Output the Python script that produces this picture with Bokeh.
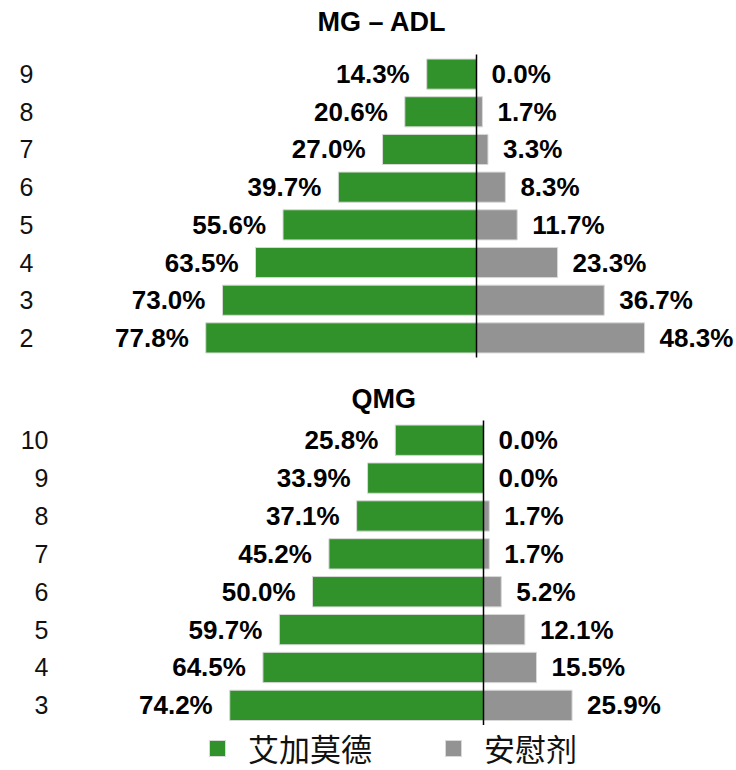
from bokeh.plotting import figure
from bokeh.models import Range1d, FixedTicker, Legend, LegendItem, Title
from bokeh.layouts import column
from bokeh.core.properties import value
from bokeh.embed import file_html
from bokeh.resources import INLINE

# ---- data ----
top_title = "MG – ADL"
top_cats = ["9", "8", "7", "6", "5", "4", "3", "2"]
top_drug = [14.3, 20.6, 27.0, 39.7, 55.6, 63.5, 73.0, 77.8]
top_pbo = [0.0, 1.7, 3.3, 8.3, 11.7, 23.3, 36.7, 48.3]

bot_title = "QMG"
bot_cats = ["10", "9", "8", "7", "6", "5", "4", "3"]
bot_drug = [25.8, 33.9, 37.1, 45.2, 50.0, 59.7, 64.5, 74.2]
bot_pbo = [0.0, 0.0, 1.7, 1.7, 5.2, 12.1, 15.5, 25.9]

series_names = ["艾加莫德", "安慰剂"]

GREEN = "#31912a"
GRAY = "#939393"
LAT = "Liberation Sans"
CJK = "Noto Sans CJK SC"


def panel(title, cats, drug, pbo, height, xr, label_standoff, top, bottom,
          title_offset, spacer=None, extra=0.0, legend=False):
    n = len(cats)
    ys = list(range(n))
    p = figure(width=736, height=height, output_backend="svg", toolbar_location=None,
               x_range=Range1d(*xr), y_range=Range1d(n - 1 + 0.6 + extra, -0.6),
               x_axis_location=None, min_border_left=54, min_border_right=0,
               min_border_top=top, min_border_bottom=bottom)
    p.outline_line_color = None
    p.grid.visible = False
    p.background_fill_color = "white"
    p.border_fill_color = "white"

    if spacer is not None:
        p.add_layout(Title(text=" ", text_font_size="5px", standoff=spacer), "above")
    t = Title(text=title, text_font=LAT, text_font_size="27px", text_font_style="bold",
              text_color="black", align="left", offset=title_offset, standoff=8)
    p.add_layout(t, "above")

    neg = [-v for v in drug]
    r1 = p.hbar(y=ys, left=neg, right=0, height=0.8, fill_color=GREEN,
                line_color="#d9d9d9", line_width=1)
    r2 = p.hbar(y=ys, left=0, right=pbo, height=0.8, fill_color=GRAY,
                line_color="#d9d9d9", line_width=1)
    p.segment(x0=0, y0=-0.52, x1=0, y1=n - 1 + 0.52, line_color="black", line_width=1.5)

    p.text(x=neg, y=ys, text=[f"{v:.1f}%" for v in drug], text_align="right",
           text_baseline="middle", x_offset=-17, text_font=value(LAT),
           text_font_size="26px", text_font_style="bold", text_color="black")
    p.text(x=pbo, y=ys, text=[f"{v:.1f}%" for v in pbo], text_align="left",
           text_baseline="middle", x_offset=15, text_font=value(LAT),
           text_font_size="26px", text_font_style="bold", text_color="black")

    ax = p.yaxis[0]
    ax.ticker = FixedTicker(ticks=ys)
    ax.major_label_overrides = {y: c for y, c in zip(ys, cats)}
    ax.axis_line_color = None
    ax.major_tick_line_color = None
    ax.minor_tick_line_color = None
    ax.major_tick_out = 0
    ax.major_tick_in = 0
    ax.major_label_standoff = label_standoff
    ax.major_label_text_font = LAT
    ax.major_label_text_font_size = "25px"
    ax.major_label_text_color = "#111111"

    if legend:
        lg = Legend(items=[LegendItem(label=series_names[0], renderers=[r1]),
                           LegendItem(label=series_names[1], renderers=[r2])],
                    orientation="horizontal", location=(153, 0),
                    glyph_width=20, glyph_height=20, label_standoff=21, spacing=71,
                    label_text_font=CJK, label_text_font_size="31px",
                    label_text_color="#111111", padding=0, margin=0,
                    border_line_color=None, background_fill_alpha=0,
                    inactive_fill_alpha=0)
        p.add_layout(lg, "center")
    return p


pa = panel(top_title, top_cats, top_drug, top_pbo, 375, (-121.26, 74.71), 21,
           top=51, bottom=15, title_offset=263, spacer=3)
pb = panel(bot_title, bot_cats, bot_drug, bot_pbo, 395, (-125.44, 73.98), 6,
           top=42, bottom=0, title_offset=297, extra=1.12, legend=True)

layout = column(pa, pb, spacing=0)
open("out.html", "w").write(file_html(layout, INLINE))
